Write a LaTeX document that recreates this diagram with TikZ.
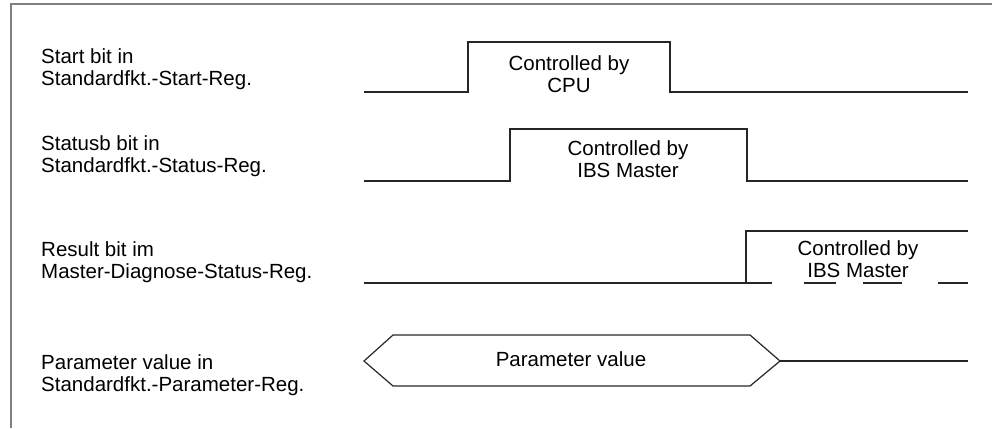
\documentclass[tikz,border=0pt]{standalone}
\usepackage{fontspec}
\setmainfont{Liberation Sans}
\begin{document}
\begin{tikzpicture}[x=1pt,y=-1pt,
  frameline/.style={draw=black!50,line width=1.3pt},
  sigline/.style={draw=black!85,line width=1.2pt,line join=miter},
  lbl/.style={anchor=west,align=left,inner sep=0pt,font=\fontsize{20.5}{22.5}\selectfont},
  sigtext/.style={align=center,inner sep=0pt,font=\fontsize{20.5}{22.5}\selectfont}]
\useasboundingbox (0,0) rectangle (992,428);
% frame
\coordinate (fb) at (11,428);
\coordinate (fc) at (11,4);
\coordinate (fr) at (992,4);
\draw[frameline] (fb) -- (fc) -- (fr);
% labels
\node[lbl] (l1) at (41,69) {Start bit in\\Standardfkt.-Start-Reg.};
\node[lbl] (l2) at (41,156) {Statusb bit in\\Standardfkt.-Status-Reg.};
\node[lbl] (l3) at (41,262) {Result bit im\\Master-Diagnose-Status-Reg.};
\node[lbl] (l4) at (41,375) {Parameter value in\\Standardfkt.-Parameter-Reg.};
% row 1
\draw[sigline] (364,92) -- (468,92) -- (468,42) -- (670,42) -- (670,92) -- (968,92);
\node[sigtext] (t1) at (569,74) {Controlled by\\CPU};
% row 2
\draw[sigline] (364,181) -- (510,181) -- (510,129) -- (747,129) -- (747,181) -- (968,181);
\node[sigtext] (t2) at (628,159) {Controlled by\\IBS Master};
% row 3
\draw[sigline] (364,283) -- (746,283) -- (746,231) -- (968,231);
\draw[sigline] (746,283) -- (772,283);
\draw[sigline] (804,283) -- (836,283);
\draw[sigline] (863,283) -- (902,283);
\draw[sigline] (938,283) -- (968,283);
\node[sigtext] (t3) at (858,259) {Controlled by\\IBS Master};
% row 4
\coordinate (hl) at (364,361);
\coordinate (hr) at (780,361);
\coordinate (he) at (968,361);
\draw[sigline] (hl) -- (393,335) -- (750,335) -- (hr) -- (750,386) -- (393,386) -- cycle;
\draw[sigline] (hr) -- (he);
\node[sigtext] (t4) at (571,359) {Parameter value};
\end{tikzpicture}
\end{document}
